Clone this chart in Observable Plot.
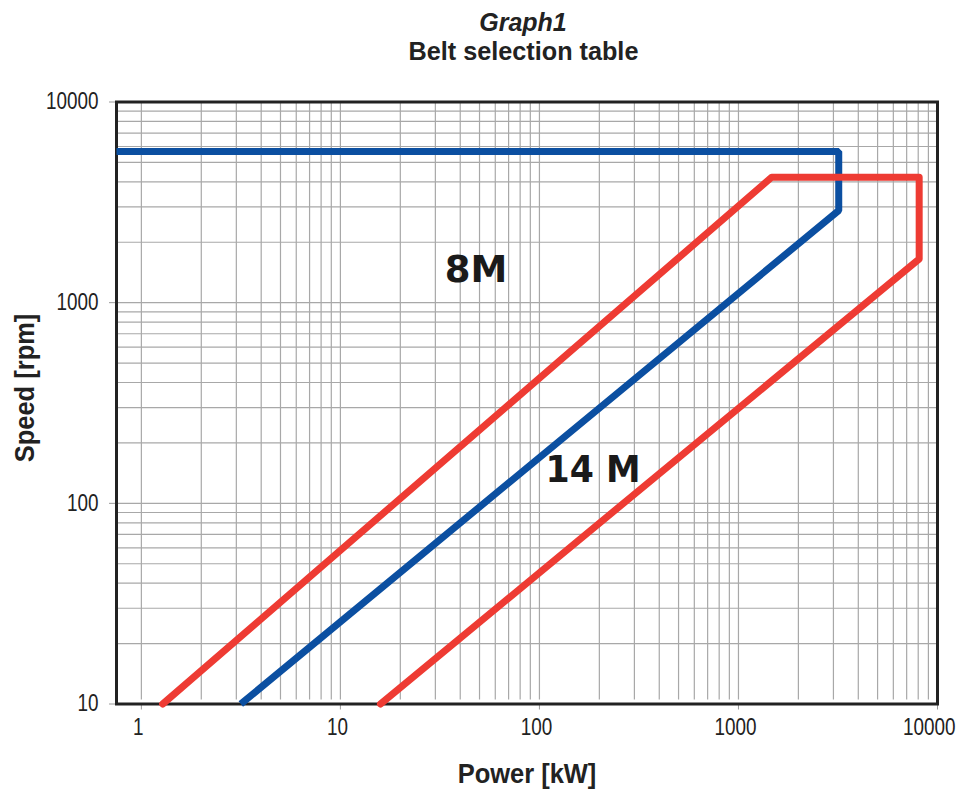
<!DOCTYPE html>
<html>
<head>
<meta charset="utf-8">
<script src="https://cdn.jsdelivr.net/npm/d3@7"></script>
<script src="https://cdn.jsdelivr.net/npm/@observablehq/plot@0.6"></script>
<style>
  html, body { margin: 0; background: #fff; overflow: hidden; font-family: "Liberation Sans", Arial, sans-serif; }
  #chart svg { display: block; }
  #title { position: relative; height: 80px; width: 962px; color: #222; }
  #title div { position: absolute; left: 0; width: 1046px; text-align: center; font-weight: bold; white-space: nowrap; }
  #t1 { top: 11px; font-style: italic; font-size: 25px; line-height: 22px; }
  #t2 { top: 40px; font-size: 26px; line-height: 22px; }
  #t2 span { display: inline-block; transform: scaleX(0.97); }
</style>
</head>
<body>
<div id="title"><div id="t1">Graph1</div><div id="t2"><span>Belt selection table</span></div></div>
<div id="chart"></div>
<script>
// Belt limit curves (Power kW, Speed rpm)
const redPower = [1.28, 1470, 8090, 8090, 15.9];
const redSpeed = [10, 4220, 4220, 1650, 10];
const bluePower = [0.75, 3190, 3190, 3.16];
const blueSpeed = [5660, 5660, 2880, 10];

const xTickLabels = [1, 10, 100, 1000, 10000];
const yTickLabels = [10, 100, 1000, 10000];

const regionNames = ["8M", "14 M"];
const regionPower = [48, 186];
const regionSpeed = [1450, 146];

const red = redPower.map((p, i) => ({p, s: redSpeed[i]}));
const blue = bluePower.map((p, i) => ({p, s: blueSpeed[i]}));
const regions = regionNames.map((n, i) => ({n, p: regionPower[i], s: regionSpeed[i]}));

// minor grid: 1..9 times each decade
const xGrid = [];
for (let d = 1; d <= 1000; d *= 10) for (let k = 1; k <= 9; k++) xGrid.push(k * d);
xGrid.push(10000);
const yGrid = [];
for (let d = 10; d <= 1000; d *= 10) for (let k = 1; k <= 9; k++) yGrid.push(k * d);
yGrid.push(10000);

const xLabelsInner = xTickLabels.slice(0, -1);
const xLabelsLast = xTickLabels.slice(-1);

const chart = Plot.plot({
  width: 962,
  height: 713,
  marginTop: 21.5,
  marginBottom: 89.5,
  marginLeft: 116,
  marginRight: 25,
  style: { fontFamily: '"Liberation Sans", Arial, sans-serif', color: "#222", background: "#fff" },
  x: { type: "log", domain: [0.75, 10000], label: null },
  y: { type: "log", domain: [10, 10000], label: null },
  marks: [
    Plot.ruleX(xGrid, { stroke: "#a8a8a8", strokeWidth: 1.2, y1: 10, y2: 10000, insetTop: -4 }),
    Plot.ruleY(yGrid, { stroke: "#a8a8a8", strokeWidth: 1.2 }),
    Plot.axisX(xTickLabels, { tickSize: 6, stroke: "#999", text: null, label: null }),
    Plot.text(xLabelsInner, { x: d => d, frameAnchor: "bottom", dy: 31, dx: -3, text: d => String(d), fontSize: 23, fill: "#222", className: "xtick" }),
    Plot.text(xLabelsLast, { x: d => d, frameAnchor: "bottom", dy: 31, dx: 18, textAnchor: "end", text: d => String(d), fontSize: 23, fill: "#222", className: "xtick" }),
    Plot.axisY(yTickLabels, { tickSize: 7, stroke: "#999", tickPadding: 11, fontSize: 23, fill: "#222", tickFormat: d => String(d), label: null }),
    Plot.frame({ stroke: "#222", strokeWidth: 3 }),
    Plot.line(blue, { x: "p", y: "s", stroke: "#0b4fa1", strokeWidth: 7, strokeLinejoin: "miter", strokeLinecap: "butt" }),
    Plot.line(red, { x: "p", y: "s", stroke: "#ee3b33", strokeWidth: 7, strokeLinejoin: "round", strokeLinecap: "round" }),
    Plot.text(regions, { x: "p", y: "s", text: "n", fontFamily: '"DejaVu Sans", sans-serif', fontWeight: "bold", fontSize: 37, fill: "#1a1a1a" }),
    Plot.text(["Power [kW]"], { frameAnchor: "bottom", dy: 79, text: d => d, fontSize: 28, fontWeight: "bold", fill: "#222" }),
    Plot.text(["Speed [rpm]"], { frameAnchor: "left", dx: -91, dy: -15, rotate: -90, textAnchor: "middle", text: d => d, fontSize: 28, fontWeight: "bold", fill: "#222" })
  ]
});
document.getElementById("chart").appendChild(chart);

// condense texts to mimic the narrow typeface of the original
function condense(t, factor) {
  const L = t.getComputedTextLength();
  t.setAttribute("textLength", (L * factor).toFixed(1));
  t.setAttribute("lengthAdjust", "spacingAndGlyphs");
}
chart.querySelectorAll('g[aria-label$="tick label"] text, .xtick text').forEach(t => condense(t, 0.82));
chart.querySelectorAll('g[aria-label="text"] text').forEach(t => {
  if (t.textContent === "Power [kW]" || t.textContent === "Speed [rpm]") condense(t, 0.91);
  if (t.textContent === "14 M") condense(t, 0.94);
});
</script>
</body>
</html>
